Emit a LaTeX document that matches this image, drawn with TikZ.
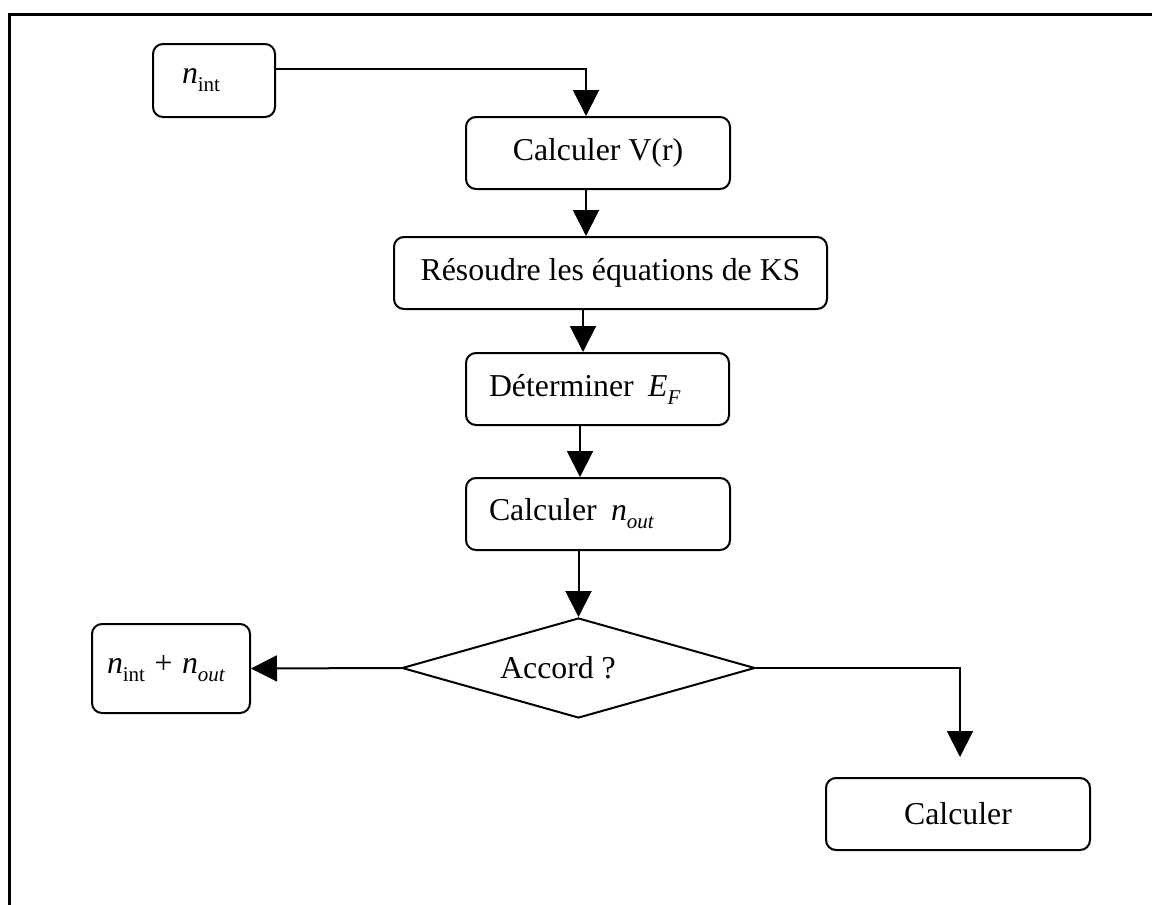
\documentclass[tikz,border=0pt]{standalone}
\usepackage{fontspec}
\setmainfont{Liberation Serif}
\usetikzlibrary{shapes.geometric, arrows.meta, positioning}

\newcommand{\subtxt}[1]{\raisebox{-4pt}{\fontsize{10.5}{11}\selectfont #1}}

\begin{document}
\begin{tikzpicture}[x=0.5pt, y=-0.5pt, >={Triangle[length=13pt,width=13pt]},
    every node/.style={font=\fontsize{15.9}{19}\selectfont},
    box/.style={draw, line width=1pt, rounded corners=5pt, inner sep=0pt, minimum height=36pt},
    lbox/.style={box, align=left, inner xsep=#1},
    flow/.style={->, line width=1pt}]
    \useasboundingbox (0,0) rectangle (1152,905);

    % Frame
    \draw[line width=1.5pt] (9,905) -- (9,14) -- (1152,14);

    % Steps
    \node[lbox=14.5pt, text width=32pt, minimum height=36.5pt] (nint) at (214,80.5) {\textit{n}\subtxt{int}};
    \node[box, minimum width=132pt] (calcV) at (598,153) {Calculer V(r)};
    \node[box, minimum width=216.5pt] (resoudre) at (610.5,273) {Résoudre les équations de KS};
    \node[lbox=11.5pt, text width=108.5pt] (determ) at (597.5,389) {Déterminer\hspace{0.45em}\textit{E}\subtxt{\textit{F}}};
    \node[lbox=11.5pt, text width=109pt] (calcn) at (598,514) {Calculer\hspace{0.45em}\textit{n}\subtxt{\textit{out}}};

    % Test
    \node[draw, diamond, line width=1pt, inner sep=0pt, minimum width=176.5pt, minimum height=50pt] (accord) at (578.5,668) {};
    \node (accordtxt) at (558,668) {Accord ?};
    \node[lbox=7.5pt, text width=64pt, minimum height=44.5pt] (nsum) at (171,668.5) {\textit{n}\subtxt{int}\hspace{0.3em}+\hspace{0.3em}\textit{n}\subtxt{\textit{out}}};
    \node[box, minimum width=132pt] (calcfin) at (958,814) {Calculer};
    \coordinate (finarr) at (960,757);

    % Connectors
    \draw[flow] ([yshift=5.75pt]nint.east) -| ([xshift=-6pt]calcV.north);
    \draw[flow] ([xshift=-6pt]calcV.south) -- ([xshift=-6pt]calcV.south |- resoudre.north);
    \draw[flow] ([xshift=-7.25pt]determ.north |- resoudre.south) -- ([xshift=-7.25pt]determ.north);
    \draw[flow] ([xshift=-8.75pt]determ.south) -- ([xshift=-8.75pt]determ.south |- calcn.north);
    \draw[flow] (calcn.south -| accord.north) -- (accord.north);
    \draw[flow] (accord.west) -- (nsum.east);
    \draw[flow] (accord.east) -| (finarr);
\end{tikzpicture}
\end{document}
